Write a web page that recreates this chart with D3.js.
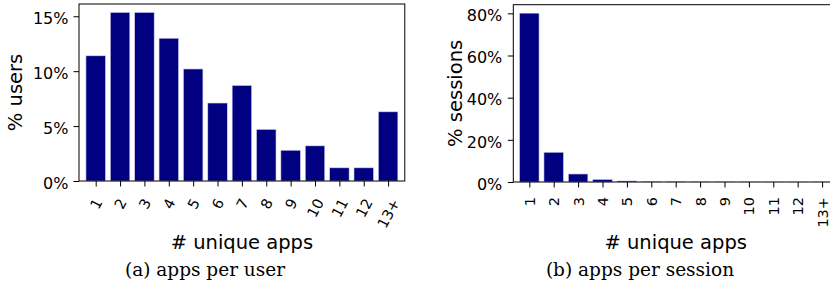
<!DOCTYPE html>
<html><head><meta charset="utf-8">
<script src="https://cdn.jsdelivr.net/npm/d3@7"></script>
<style>
html,body{margin:0;padding:0;background:#fff;}
svg{display:block;}
text{font-family:"DejaVu Sans",sans-serif;fill:#000;}
</style></head>
<body>
<svg id="chart" width="830" height="308"></svg>
<script>
const categories = ["1","2","3","4","5","6","7","8","9","10","11","12","13+"];
const usersPct = [11.4, 15.35, 15.35, 13.0, 10.2, 7.1, 8.7, 4.7, 2.8, 3.2, 1.2, 1.2, 6.3];
const sessionsPct = [80.1, 14.1, 3.8, 1.2, 0.5, 0.25, 0.15, 0.05, 0.03, 0.02, 0.01, 0.01, 0.02];
const usersTicks = [0, 5, 10, 15];
const sessionsTicks = [0, 20, 40, 60, 80];

const svg = d3.select("#chart");

function panel(opt) {
  const g = svg.append("g");
  const n = opt.values.length;
  const x = d3.scaleLinear().domain([-opt.pad, n - 1 + opt.pad]).range([opt.left, opt.right]);
  const y = d3.scaleLinear().domain([0, d3.max(opt.values) * 1.05]).range([opt.bottom, opt.top]);
  const bw = x(0.8) - x(0);

  // bars
  g.selectAll("rect.bar").data(opt.values).join("rect")
    .attr("class", "bar")
    .attr("x", (d, i) => x(i) - bw / 2)
    .attr("width", bw)
    .attr("y", d => y(d))
    .attr("height", d => y(0) - y(d))
    .attr("fill", "#000080")
    .attr("stroke", "#d0d0ee")
    .attr("stroke-width", 0.6);

  // frame
  g.append("rect")
    .attr("x", opt.left).attr("y", opt.top)
    .attr("width", opt.right - opt.left).attr("height", opt.bottom - opt.top)
    .attr("fill", "none").attr("stroke", "#000").attr("stroke-width", 1);

  // y axis
  const yAxis = d3.axisLeft(y).tickValues(opt.yTicks).tickSize(5.5).tickPadding(5)
    .tickFormat(d => d + "%");
  const ya = g.append("g").attr("transform", `translate(${opt.left},0)`).call(yAxis);
  ya.select(".domain").remove();
  ya.selectAll(".tick line").attr("stroke", "#000").attr("stroke-width", 1);
  ya.selectAll(".tick text").attr("font-size", 16).attr("font-family", "DejaVu Sans")
    .attr("dy", "0.45em").attr("x", -(opt.ylabPad));

  // x axis
  const xAxis = d3.axisBottom(x).tickValues(d3.range(n)).tickSize(5.5)
    .tickFormat(i => categories[i]);
  const xa = g.append("g").attr("transform", `translate(0,${opt.bottom})`).call(xAxis);
  xa.select(".domain").remove();
  xa.selectAll(".tick line").attr("stroke", "#000").attr("stroke-width", 1);
  xa.selectAll(".tick text").each(function () {
    const t = d3.select(this);
    t.attr("font-size", 14.5).attr("font-family", "DejaVu Sans").attr("y", 0).attr("dy", null);
    const bb = this.getBBox();
    const w = bb.width, h = 12;
    const th = opt.rot * Math.PI / 180;
    const H = w * Math.sin(th) + h * Math.cos(th);
    const cy = opt.xlabTop + H / 2;
    t.attr("text-anchor", "middle").attr("dominant-baseline", "central")
      .attr("transform", `translate(0,${cy - opt.bottom}) rotate(${-opt.rot})`);
  });

  // axis titles
  g.append("text")
    .attr("x", (opt.left + opt.right) / 2).attr("y", opt.xTitleY)
    .attr("text-anchor", "middle").attr("font-size", 19.5)
    .text("# unique apps");
  g.append("text")
    .attr("transform", `translate(${opt.yTitleX},${(opt.top + opt.bottom) / 2}) rotate(-90)`)
    .attr("text-anchor", "middle").attr("dominant-baseline", "central").attr("font-size", 19.5)
    .text(opt.yTitle);
  // caption
  g.append("text")
    .attr("x", opt.capX).attr("y", 276)
    .attr("text-anchor", "middle").attr("font-size", 18.5)
    .style("font-family", '"DejaVu Serif", serif')
    .text(opt.caption);
}

panel({
  values: usersPct, yTicks: usersTicks, pad: 0.685,
  left: 79, right: 404.8, top: 4, bottom: 181,
  rot: 62, xlabTop: 197, ylabPad: 10.5,
  xTitleY: 249, yTitleX: 15, yTitle: "% users",
  caption: "(a) apps per user", capX: 205
});
panel({
  values: sessionsPct, yTicks: sessionsTicks, pad: 0.656,
  left: 513.3, right: 838.1, top: 4.7, bottom: 182,
  rot: 90, xlabTop: 197, ylabPad: 11,
  xTitleY: 249, yTitleX: 455, yTitle: "% sessions",
  caption: "(b) apps per session", capX: 640
});
</script>
</body></html>
